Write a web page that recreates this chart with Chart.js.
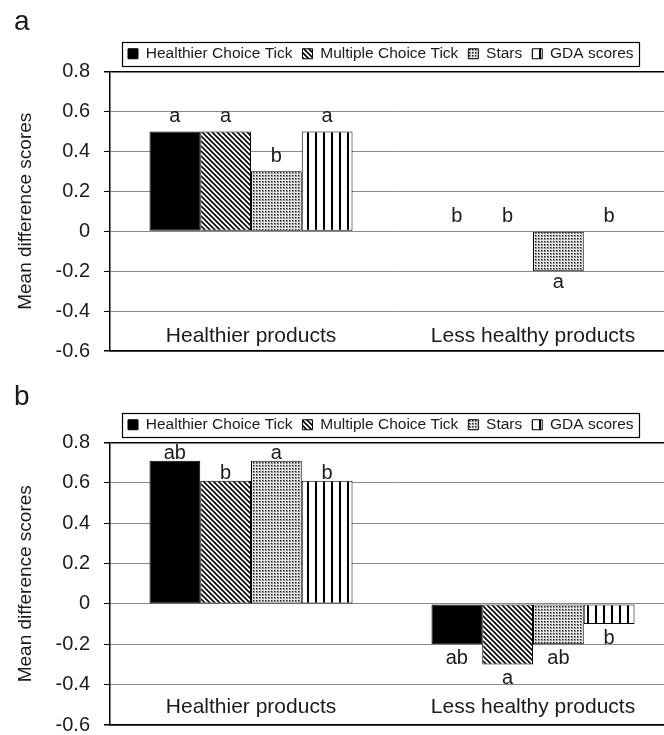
<!DOCTYPE html>
<html>
<head>
<meta charset="utf-8">
<script src="https://cdn.jsdelivr.net/npm/chart.js@4/dist/chart.umd.min.js"></script>
<style>
  html, body { margin: 0; padding: 0; background: #fff; overflow: hidden; }
  canvas { display: block; }
</style>
</head>
<body>
<canvas id="chartA" width="676" height="368"></canvas>
<canvas id="chartB" width="676" height="367"></canvas>
<script>
const categories = ['Healthier products', 'Less healthy products'];
const seriesNames = ['Healthier Choice Tick', 'Multiple Choice Tick', 'Stars', 'GDA scores'];
const yTicks = [-0.6, -0.4, -0.2, 0, 0.2, 0.4, 0.6, 0.8];

// panel a
const hctA = [0.5, 0];
const mctA = [0.5, 0];
const starsA = [0.3, -0.2];
const gdaA = [0.5, 0];
const lettersA = [['a', 'b'], ['a', 'b'], ['b', 'a'], ['a', 'b']];

// panel b
const hctB = [0.71, -0.2];
const mctB = [0.61, -0.3];
const starsB = [0.71, -0.2];
const gdaB = [0.61, -0.1];
const lettersB = [['ab', 'ab'], ['b', 'a'], ['a', 'ab'], ['b', 'b']];

const FONT = "'Liberation Sans', Arial, sans-serif";
const INK = '#1a1a1a';

function tile(size, draw) {
  const c = document.createElement('canvas');
  c.width = size; c.height = size;
  const g = c.getContext('2d');
  g.fillStyle = '#fff';
  g.fillRect(0, 0, size, size);
  g.fillStyle = '#000';
  g.strokeStyle = '#000';
  draw(g, size);
  return g.createPattern(c, 'repeat');
}

const fills = [
  '#000',
  tile(5, (g, s) => {
    g.lineWidth = 1.6;
    g.beginPath();
    g.moveTo(-1, -1); g.lineTo(s + 1, s + 1);
    g.moveTo(-1, s - 1); g.lineTo(1, s + 1);
    g.moveTo(s - 1, -1); g.lineTo(s + 1, 1);
    g.stroke();
  }),
  tile(3, g => {
    g.fillStyle = '#e6e6e6'; g.fillRect(0, 0, 3, 3);
    g.fillStyle = '#8c8c8c'; g.fillRect(1, 1, 2, 2);
    g.fillStyle = '#111'; g.fillRect(1, 1, 1, 1);
  }),
  tile(8, g => { g.fillRect(3, 0, 2, 8); })
];

function letterPlugin(letters, above, below) {
  return {
    id: 'letters',
    afterDatasetsDraw(chart) {
      const ctx = chart.ctx;
      ctx.save();
      ctx.font = '20px ' + FONT;
      ctx.fillStyle = INK;
      ctx.textAlign = 'center';
      ctx.textBaseline = 'alphabetic';
      letters.forEach((row, di) => {
        chart.getDatasetMeta(di).data.forEach((bar, i) => {
          const v = chart.data.datasets[di].data[i];
          const y = v < 0 ? bar.y + below : bar.y - above;
          ctx.fillText(row[i], bar.x, y);
        });
      });
      ctx.restore();
    }
  };
}

// category names sit inside the plot, just above the bottom line
function categoryPlugin(offset) {
  return {
    id: 'categoryLabels',
    afterDraw(chart) {
      const x = chart.scales.x;
      const ctx = chart.ctx;
      ctx.save();
      ctx.font = '21px ' + FONT;
      ctx.fillStyle = INK;
      ctx.textAlign = 'center';
      ctx.textBaseline = 'middle';
      categories.forEach((name, i) => {
        ctx.fillText(name, x.getPixelForTick(i), chart.chartArea.bottom - offset);
      });
      ctx.restore();
    }
  };
}

const legendBox = {
  id: 'legendBox',
  afterLayout(chart) {
    chart.legend.left += 8;
    chart.legend.right += 8;
  },
  afterDraw(chart) {
    const hb = chart.legend.legendHitBoxes;
    if (!hb || !hb.length) return;
    const first = hb[0], last = hb[hb.length - 1];
    const cy = first.top + first.height / 2;
    const ctx = chart.ctx;
    ctx.save();
    ctx.strokeStyle = '#000';
    ctx.lineWidth = 1.2;
    ctx.strokeRect(Math.round(first.left) - 5.5, Math.round(cy) - 11.5,
      Math.round(last.left + last.width - first.left) + 11, 24);
    ctx.restore();
  }
};

function makeChart(id, values, letters, o) {
  const isEdge = v => Math.abs(v - 0.8) < 1e-9 || Math.abs(v + 0.6) < 1e-9;
  return new Chart(document.getElementById(id), {
    type: 'bar',
    data: {
      labels: categories,
      datasets: values.map((v, i) => ({
        label: seriesNames[i],
        data: v,
        backgroundColor: fills[i],
        borderColor: '#000',
        borderWidth: 1,
        borderSkipped: false,
        categoryPercentage: 0.72,
        barPercentage: 1
      }))
    },
    options: {
      responsive: false,
      animation: false,
      layout: { padding: { left: 14, right: 2, top: 0, bottom: o.bottom } },
      plugins: {
        tooltip: { enabled: false },
        title: {
          display: true, text: o.title, align: 'start', color: INK,
          font: { size: 28, family: FONT, weight: 'normal', lineHeight: 1 },
          padding: { top: o.titleTop, bottom: o.titleBottom }
        },
        legend: {
          position: 'top', align: 'start', fullSize: false,
          labels: {
            boxWidth: 10, boxHeight: 10, padding: 10, color: INK,
            font: { size: 15.5, family: FONT }
          }
        }
      },
      scales: {
        x: {
          grid: { display: false, drawTicks: false },
          border: { color: '#000', width: 1.5 },
          ticks: { display: false },
          afterFit: s => { s.height = 1; s.paddingLeft = 0; s.paddingRight = 0; }
        },
        y: {
          min: -0.6, max: 0.8,
          afterBuildTicks: s => { s.ticks = yTicks.map(v => ({ value: v })); },
          afterFit: s => { s.width = 96; s.paddingTop = 0; s.paddingBottom = 0; },
          ticks: {
            font: { size: 20, family: FONT }, color: INK, padding: 14,
            callback: v => String(v)
          },
          grid: {
            color: c => (c.tick && isEdge(c.tick.value)) ? '#000' : '#8a8a8a',
            lineWidth: c => (c.tick && isEdge(c.tick.value)) ? 1.5 : 1,
            tickColor: '#000', tickLength: 6
          },
          border: { color: '#000', width: 1.5 },
          title: {
            display: true, text: 'Mean difference scores', color: INK,
            font: { size: 19, family: FONT }, padding: { top: 0, bottom: 0 }
          }
        }
      }
    },
    plugins: [legendBox, letterPlugin(letters, o.above, o.below), categoryPlugin(o.catOffset)]
  });
}

makeChart('chartA', [hctA, mctA, starsA, gdaA], lettersA,
  { title: 'a', titleTop: 8, titleBottom: 0, bottom: 16, catOffset: 15, above: 9, below: 17 });
makeChart('chartB', [hctB, mctB, starsB, gdaB], lettersB,
  { title: 'b', titleTop: 15, titleBottom: -4, bottom: 9, catOffset: 18, above: 2, below: 20 });
</script>
</body>
</html>
